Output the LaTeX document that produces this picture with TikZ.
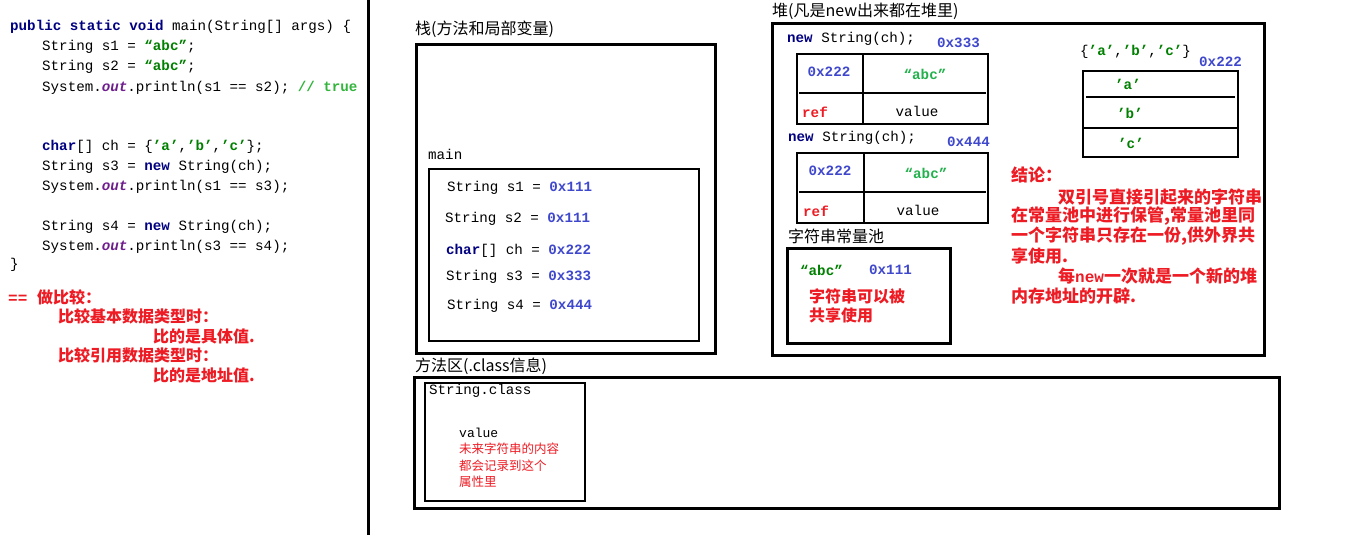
\documentclass[tikz,border=0pt]{standalone}
\usepackage{fontspec}
\setmainfont{Liberation Mono}
\newfontfamily\cjk{Noto Sans CJK SC}
\definecolor{kwblue}{RGB}{0,0,128}
\definecolor{addr}{RGB}{63,72,204}
\definecolor{litgreen}{RGB}{0,128,0}
\definecolor{lgreen}{RGB}{34,177,76}
\definecolor{cgreen}{RGB}{50,180,60}
\definecolor{purp}{RGB}{110,30,140}
\definecolor{myred}{RGB}{237,28,36}
\newcommand\zh[1]{{\cjk #1}}
\newcommand\mykw[1]{\textcolor{kwblue}{\bfseries #1}}
\newcommand\myad[1]{\textcolor{addr}{\bfseries #1}}
\newcommand\mylit[1]{\textcolor{litgreen}{\bfseries #1}}
\newcommand\myout{\textcolor{purp}{\bfseries\itshape out}}
\begin{document}
\begin{tikzpicture}[x=1pt,y=-1pt,
  codet/.style={anchor=west,inner sep=0pt,font=\fontsize{14.2}{16}\selectfont},
  smallt/.style={anchor=west,inner sep=0pt,font=\fontsize{13}{15}\selectfont},
  zhlabel/.style={anchor=west,inner sep=0pt,font=\fontsize{16}{18}\selectfont\cjk},
  redt/.style={anchor=west,inner sep=0pt,text=myred,font=\fontsize{16}{18}\selectfont\bfseries\cjk},
  concl/.style={anchor=west,inner sep=0pt,text=myred,font=\fontsize{17}{19}\selectfont\bfseries},
  smallred/.style={anchor=west,inner sep=0pt,text=myred,font=\fontsize{12.5}{14}\selectfont\cjk},
  thickbox/.style={draw,line width=3pt},
  thinbox/.style={draw,line width=1.2pt},
  cell/.style={inner sep=0pt,font=\fontsize{14.2}{16}\selectfont},
]
\useasboundingbox (0,0) rectangle (1353,539);
% ---------- left code ----------
\node[codet] (c1) at (10,27) {\mykw{public static void} main(String[] args) \{};
\node[codet] (c2) at (42,47) {String s1 = \mylit{“abc”};};
\node[codet] (c3) at (42,67) {String s2 = \mylit{“abc”};};
\node[codet] (c4) at (42,88) {System.\myout.println(s1 == s2); \textcolor{cgreen}{\bfseries // true}};
\node[codet] (c5) at (42,147) {\mykw{char}[] ch = \{\mylit{'a'},\mylit{'b'},\mylit{'c'}\};};
\node[codet] (c6) at (42,167) {String s3 = \mykw{new} String(ch);};
\node[codet] (c7) at (42,187) {System.\myout.println(s1 == s3);};
\node[codet] (c8) at (42,227) {String s4 = \mykw{new} String(ch);};
\node[codet] (c9) at (42,247) {System.\myout.println(s3 == s4);};
\node[codet] (c10) at (10,265) {\}};
\node[anchor=west,inner sep=0pt,text=myred,font=\fontsize{16}{18}\selectfont\bfseries] (r1) at (8,297) {== \zh{做比较：}};
\node[redt] (r2) at (58,316) {比较基本数据类型时：};
\node[redt] (r3) at (153,336) {比的是具体值.};
\node[redt] (r4) at (58,355) {比较引用数据类型时：};
\node[redt] (r5) at (153,375) {比的是地址值.};
\draw[line width=3pt] (368,0) -- (368,535);
% ---------- stack ----------
\node[zhlabel] (stacklbl) at (415,29) {栈(方法和局部变量)};
\draw[thickbox] (416,44) rectangle (715,353);
\node[codet] (mainlbl) at (428,154) {main};
\draw[thinbox] (429,169) rectangle (699,341);
\node[codet] (v1) at (447,188) {String s1 = \myad{0x111}};
\node[codet] (v2) at (445,219) {String s2 = \myad{0x111}};
\node[codet] (v3) at (446,251) {\mykw{char}[] ch = \myad{0x222}};
\node[codet] (v4) at (446,277) {String s3 = \myad{0x333}};
\node[codet] (v5) at (447,306) {String s4 = \myad{0x444}};
% ---------- heap ----------
\node[zhlabel] (heaplbl) at (772,11) {堆(凡是new出来都在堆里)};
\draw[thickbox] (772,23) rectangle (1264,355);
\node[codet] (n1) at (787,39) {\mykw{new} String(ch);};
\node[codet] (a1) at (937,43) {\myad{0x333}};
\draw[thinbox] (797,54) rectangle (988,124);
\draw[line width=1.2pt] (863,54) -- (863,124);
\draw[line width=1.2pt] (799,93) -- (986,93);
\node[cell] (t1a) at (829,72) {\myad{0x222}};
\node[cell] (t1b) at (925,74) {\textcolor{lgreen}{\bfseries “abc”}};
\node[cell] (t1c) at (815,112) {\textcolor{myred}{\bfseries ref}};
\node[cell] (t1d) at (917,111) {value};
\node[codet] (n2) at (788,138) {\mykw{new} String(ch);};
\node[codet] (a2) at (947,142) {\myad{0x444}};
\draw[thinbox] (797,153) rectangle (988,223);
\draw[line width=1.2pt] (864,153) -- (864,223);
\draw[line width=1.2pt] (799,192) -- (986,192);
\node[cell] (t2a) at (830,171) {\myad{0x222}};
\node[cell] (t2b) at (926,173) {\textcolor{lgreen}{\bfseries “abc”}};
\node[cell] (t2c) at (816,211) {\textcolor{myred}{\bfseries ref}};
\node[cell] (t2d) at (918,210) {value};
\node[zhlabel] (poollbl) at (788,236) {字符串常量池};
\draw[thickbox] (787,248) rectangle (950,343);
\node[codet] (p1) at (800,270) {\mylit{“abc”}};
\node[codet] (p2) at (869,270) {\myad{0x111}};
\node[redt] (p3) at (809,296) {字符串可以被};
\node[redt] (p4) at (809,315) {共享使用};
\node[codet] (arrlbl) at (1080,52) {\{\mylit{'a'},\mylit{'b'},\mylit{'c'}\}};
\node[codet] (a3) at (1199,62) {\myad{0x222}};
\draw[thinbox] (1083,71) rectangle (1238,157);
\draw[line width=1.2pt] (1086,97) -- (1235,97);
\draw[line width=1.2pt] (1083,128) -- (1238,128);
\node[cell] (e1) at (1128,84) {\mylit{'a'}};
\node[cell] (e2) at (1130,113) {\mylit{'b'}};
\node[cell] (e3) at (1131,143) {\mylit{'c'}};
\node[concl] (k0) at (1011,175) {\zh{结论：}};
\node[concl] (k1) at (1058,197) {\zh{双引号直接引起来的字符串}};
\node[concl] (k2) at (1011,216) {\zh{在常量池中进行保管,常量池里同}};
\node[concl] (k3) at (1011,236) {\zh{一个字符串只存在一份,供外界共}};
\node[concl] (k4) at (1011,256) {\zh{享使用.}};
\node[concl] (k5) at (1058,276) {\zh{每}{\fontsize{16}{18}\selectfont new}\zh{一次就是一个新的堆}};
\node[concl] (k6) at (1011,296) {\zh{内存地址的开辟.}};
% ---------- method area ----------
\node[zhlabel] (methlbl) at (415,366) {方法区(.class信息)};
\draw[thickbox] (414,377) rectangle (1279,508);
\draw[thinbox] (425,383) rectangle (585,501);
\node[codet] (sc) at (429,391) {String.class};
\node[smallt] (sv) at (459,433) {value};
\node[smallred] (m1) at (459,449) {未来字符串的内容};
\node[smallred] (m2) at (459,466) {都会记录到这个};
\node[smallred] (m3) at (459,482) {属性里};
\end{tikzpicture}
\end{document}
